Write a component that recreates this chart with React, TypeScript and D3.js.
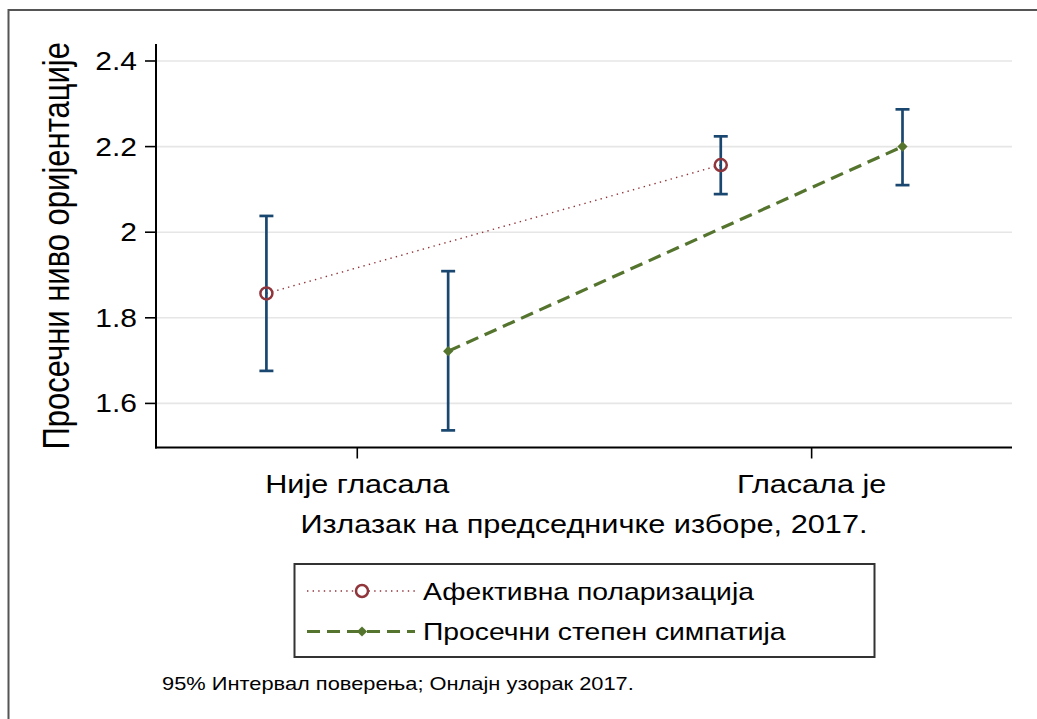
import * as d3 from 'd3'

const categories = ['Није гласала', 'Гласала је']
const yTicks = [1.6, 1.8, 2, 2.2, 2.4]

const seriesNames = ['Афективна поларизација', 'Просечни степен симпатија']
const seriesOffset = [-0.2, 0.2]

const polarMean = [1.857, 2.157]
const polarLo = [1.676, 2.089]
const polarHi = [2.038, 2.224]

const sympMean = [1.722, 2.2]
const sympLo = [1.537, 2.11]
const sympHi = [1.909, 2.287]

const W = 1037
const H = 719
const plot = { left: 156, right: 1012, top: 44, bottom: 447.5 }

const BLUE = '#1a476f'
const MAROON = '#90353b'
const GREEN = '#55752f'
const FONT = '"Liberation Sans", Arial, Helvetica, sans-serif'
// the source picture is a bit wider than tall, glyphs come out stretched
const SX = 1.2

function Label({
  x,
  y,
  size,
  anchor = 'start',
  children,
}: {
  x: number
  y: number
  size: number
  anchor?: 'start' | 'middle' | 'end'
  children: React.ReactNode
}) {
  return (
    <text
      transform={`translate(${x},${y}) scale(${SX},1)`}
      textAnchor={anchor}
      fontSize={size}
      fill="#000"
    >
      {children}
    </text>
  )
}

export default function App() {
  const x = d3.scaleLinear().domain([-0.443, 1.441]).range([plot.left, plot.right])
  const y = d3.scaleLinear().domain([1.497, 2.4397]).range([plot.bottom, plot.top])

  const series = [
    { name: seriesNames[0], mean: polarMean, lo: polarLo, hi: polarHi, off: seriesOffset[0] },
    { name: seriesNames[1], mean: sympMean, lo: sympLo, hi: sympHi, off: seriesOffset[1] },
  ]

  const lineFor = (off: number) =>
    d3
      .line<number>()
      .x((_, i) => x(i + off))
      .y((d) => y(d))

  const diamond = d3.symbol(d3.symbolSquare, 52)() || ''
  const capW = 7

  return (
    <svg
      width={W}
      height={H}
      style={{ position: 'absolute', left: 0, top: 0, background: '#fff', fontFamily: FONT }}
    >
      {/* outer frame, clipped on right/bottom like the source */}
      <rect x={8.5} y={10} width={1040} height={720} fill="#fff" stroke="#555" strokeWidth={2} />

      {/* gridlines */}
      {yTicks.map((t) => (
        <line key={t} x1={plot.left} x2={plot.right} y1={y(t)} y2={y(t)} stroke="#e6e6e6" strokeWidth={1.6} />
      ))}

      {/* connecting lines */}
      <path
        d={lineFor(series[0].off)(series[0].mean) || ''}
        fill="none"
        stroke={MAROON}
        strokeWidth={1.4}
        strokeDasharray="1.4 4.2"
      />
      <path
        d={lineFor(series[1].off)(series[1].mean) || ''}
        fill="none"
        stroke={GREEN}
        strokeWidth={3.2}
        strokeDasharray="13 7"
      />

      {/* confidence intervals */}
      {series.map((s) =>
        s.mean.map((_, i) => {
          const cx = x(i + s.off)
          return (
            <g key={s.name + i} stroke={BLUE} strokeWidth={2.7} fill="none">
              <line x1={cx} x2={cx} y1={y(s.lo[i])} y2={y(s.hi[i])} />
              <line x1={cx - capW} x2={cx + capW} y1={y(s.lo[i])} y2={y(s.lo[i])} />
              <line x1={cx - capW} x2={cx + capW} y1={y(s.hi[i])} y2={y(s.hi[i])} />
            </g>
          )
        })
      )}

      {/* markers */}
      {polarMean.map((v, i) => (
        <circle key={'c' + i} cx={x(i + seriesOffset[0])} cy={y(v)} r={6} fill="none" stroke={MAROON} strokeWidth={2.5} />
      ))}
      {sympMean.map((v, i) => (
        <path
          key={'d' + i}
          d={diamond}
          transform={`translate(${x(i + seriesOffset[1])},${y(v)}) rotate(45)`}
          fill={GREEN}
        />
      ))}

      {/* axes */}
      <line x1={plot.left} x2={plot.left} y1={plot.top} y2={plot.bottom + 1} stroke="#000" strokeWidth={2} />
      <line x1={plot.left - 1} x2={plot.right} y1={plot.bottom} y2={plot.bottom} stroke="#000" strokeWidth={2} />
      {yTicks.map((t) => (
        <g key={'yt' + t}>
          <line x1={plot.left - 11} x2={plot.left} y1={y(t)} y2={y(t)} stroke="#000" strokeWidth={1.6} />
          <Label x={137} y={y(t) + 9} size={25} anchor="end">
            {d3.format('')(t)}
          </Label>
        </g>
      ))}
      {categories.map((c, i) => (
        <g key={c}>
          <line x1={x(i)} x2={x(i)} y1={plot.bottom} y2={plot.bottom + 11} stroke="#000" strokeWidth={1.6} />
          <Label x={x(i)} y={493} size={25.5} anchor="middle">
            {c}
          </Label>
        </g>
      ))}

      {/* axis titles */}
      <Label x={(plot.left + plot.right) / 2} y={533} size={25.6} anchor="middle">
        Излазак на председничке изборе, 2017.
      </Label>
      <text
        transform={`translate(69,${(plot.top + plot.bottom) / 2}) scale(${SX},1) rotate(-90)`}
        textAnchor="middle"
        fontSize={31}
        fill="#000"
      >
        Просечни ниво оријентације
      </text>

      {/* legend */}
      <rect x={294.5} y={564} width={580} height={93} fill="#fff" stroke="#333" strokeWidth={2} />
      <g>
        <line x1={307} x2={415} y1={591} y2={591} stroke={MAROON} strokeWidth={1.4} strokeDasharray="1.4 4.2" />
        <circle cx={362} cy={591} r={6} fill="#fff" stroke={MAROON} strokeWidth={2.5} />
        <Label x={423} y={600} size={23.6}>
          {seriesNames[0]}
        </Label>
        <line x1={307} x2={415} y1={631.5} y2={631.5} stroke={GREEN} strokeWidth={3.2} strokeDasharray="13 7" />
        <path d={diamond} transform={`translate(362,631.5) rotate(45)`} fill={GREEN} />
        <Label x={423} y={640} size={23.6}>
          {seriesNames[1]}
        </Label>
      </g>

      {/* note */}
      <Label x={162} y={690} size={18.2}>
        95% Интервал поверења; Онлајн узорак 2017.
      </Label>
    </svg>
  )
}
